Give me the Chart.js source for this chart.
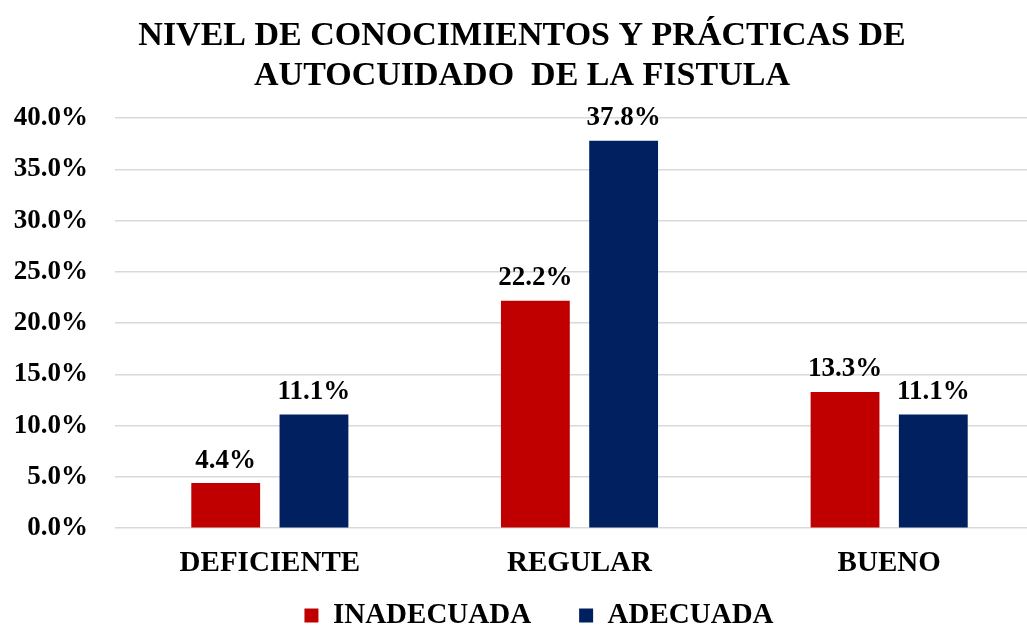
<!DOCTYPE html>
<html>
<head>
<meta charset="utf-8">
<script src="https://cdn.jsdelivr.net/npm/chart.js@4/dist/chart.umd.min.js"></script>
<style>
html,body{margin:0;padding:0;background:#fff;overflow:hidden;}
#wrap{width:1044px;height:627px;}
</style>
</head>
<body>
<div id="wrap"><canvas id="c" width="1044" height="627"></canvas></div>
<script>
const categories = ["DEFICIENTE", "REGULAR", "BUENO"];
const inadecuada = [4.4, 22.2, 13.3];
const adecuada = [11.1, 37.8, 11.1];
const seriesNames = ["INADECUADA", "ADECUADA"];
const titleLines = ["NIVEL DE CONOCIMIENTOS Y PRÁCTICAS DE", "AUTOCUIDADO  DE LA FISTULA"];

const FONT = "'Liberation Serif', 'Times New Roman', serif";
const LEGEND_GAP = 48;      // horizontal gap between legend items

const valueLabels = {
  id: 'valueLabels',
  afterDatasetsDraw(chart) {
    const ctx = chart.ctx;
    ctx.save();
    ctx.font = "bold 27px " + FONT;
    ctx.fillStyle = "#000";
    ctx.textAlign = "center";
    ctx.textBaseline = "bottom";
    chart.data.datasets.forEach((ds, i) => {
      const meta = chart.getDatasetMeta(i);
      meta.data.forEach((el, j) => {
        ctx.fillText(ds.data[j].toFixed(1) + "%", el.x, el.y - 9);
      });
    });
    ctx.restore();
  }
};

// the legend's label padding doubles as vertical padding; pull the box up so the
// items sit at the top of the reserved space while keeping the wide horizontal gap
const legendShift = {
  id: 'legendShift',
  afterLayout(chart) {
    const lg = chart.legend;
    if (!lg) return;
    lg.left += 17; lg.right += 17;
    lg.top -= LEGEND_GAP - 2;
  }
};

new Chart(document.getElementById('c'), {
  type: 'bar',
  data: {
    labels: categories,
    datasets: [
      { label: seriesNames[0], data: inadecuada, backgroundColor: '#C00000', categoryPercentage: 0.57, barPercentage: 0.78 },
      { label: seriesNames[1], data: adecuada, backgroundColor: '#002060', categoryPercentage: 0.57, barPercentage: 0.78 }
    ]
  },
  options: {
    responsive: false,
    animation: false,
    layout: { padding: { left: 0, right: 0, top: 16, bottom: 0 } },
    plugins: {
      title: {
        display: true,
        text: titleLines,
        color: '#000',
        font: { family: FONT, size: 34, weight: 'bold', lineHeight: 1.18 },
        padding: { top: 0, bottom: 22 }
      },
      legend: {
        position: 'bottom',
        maxHeight: 28,
        labels: {
          color: '#000',
          font: { family: FONT, size: 29, weight: 'bold' },
          boxWidth: 14, boxHeight: 14, padding: LEGEND_GAP
        }
      },
      tooltip: { enabled: false }
    },
    scales: {
      y: {
        min: 0, max: 40,
        afterFit(scale) { scale.width = 115; },
        ticks: {
          stepSize: 5,
          color: '#000',
          font: { family: FONT, size: 27, weight: 'bold' },
          padding: 27,
          callback: v => v.toFixed(1) + '%'
        },
        grid: { color: '#D9D9D9', lineWidth: 1.5, drawTicks: false },
        border: { display: false }
      },
      x: {
        ticks: {
          color: '#000',
          font: { family: FONT, size: 29, weight: 'bold' },
          padding: 18
        },
        grid: { display: false, drawTicks: false },
        border: { display: false }
      }
    }
  },
  plugins: [valueLabels, legendShift]
});
</script>
</body>
</html>
